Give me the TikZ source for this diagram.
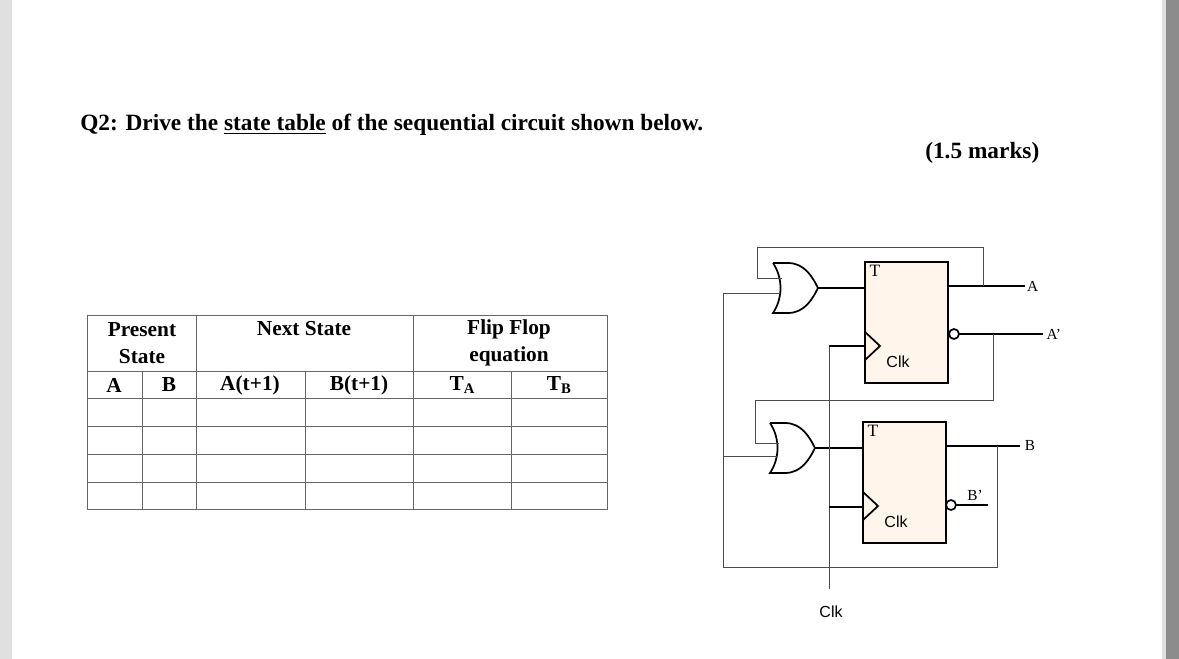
\documentclass[tikz,border=0pt]{standalone}
\usepackage{fontspec}
\setmainfont{Liberation Serif}
\newfontfamily\sansf{Liberation Sans}
\begin{document}
\begin{tikzpicture}[x=0.75pt,y=-0.75pt,
  wire/.style={draw=black!70,line width=0.6pt},
  gate/.style={draw=black,line width=1.3pt},
  ff/.style={draw=black,line width=1.3pt,fill=orange!8!white,inner sep=0},
  hdr/.style={font=\bfseries\fontsize{16}{20.5}\selectfont,align=center},
  lbl/.style={font=\fontsize{11.5}{12}\selectfont},
  grid/.style={draw=black!60,line width=0.7pt}]
\useasboundingbox (0,0) rectangle (1179,659);
\fill[black!12] (0,0) rectangle (1179,659);
\fill[white] (12,0) rectangle (1162,659);
\fill[black!45] (1166,0) rectangle (1179,659);
% title
\node[anchor=base west,font=\bfseries\fontsize{17.5}{20}\selectfont,inner sep=0] (title) at (80,131) {Q2: Drive the \underline{state table} of the sequential circuit shown below.};
\node[anchor=base west,font=\bfseries\fontsize{17.5}{20}\selectfont,inner sep=0] (marks) at (925,159) {(1.5 marks)};
% table
\draw[grid] (87,315) rectangle (607,509);
\foreach \y in {371,398,426,454,482} \draw[grid] (87,\y) -- (607,\y);
\foreach \x in {196,413} \draw[grid] (\x,315) -- (\x,509);
\foreach \x in {142,305,511} \draw[grid] (\x,371) -- (\x,509);
\node[hdr] (h1) at (142,343) {Present\\State};
\node[hdr] (h2) at (304,329) {Next State};
\node[hdr] (h3) at (509,343) {Flip Flop\\equation};
\node[hdr] (cA) at (114,385) {A};
\node[hdr] (cB) at (169,385) {B};
\node[hdr] (cA1) at (250,385) {A(t+1)};
\node[hdr] (cB1) at (359,385) {B(t+1)};
\node[hdr] (cTA) at (462,385) {T\raisebox{-2pt}{\fontsize{11}{12}\selectfont A}};
\node[hdr] (cTB) at (559,385) {T\raisebox{-2pt}{\fontsize{11}{12}\selectfont B}};
% flip flops
\node[ff,minimum width=62.25pt,minimum height=90.75pt] (FA) at (906.5,322.5) {};
\node[ff,minimum width=62.25pt,minimum height=90.75pt] (FB) at (904.5,482.5) {};
\node[anchor=north west,inner sep=1pt,font=\fontsize{13}{14}\selectfont] at (868,264) {T};
\node[anchor=north west,inner sep=1pt,font=\fontsize{13}{14}\selectfont] at (866,424) {T};
\node[font=\sansf\fontsize{12}{13}\selectfont] at (898,362) {Clk};
\node[font=\sansf\fontsize{12}{13}\selectfont] at (896,522) {Clk};
\draw[gate] (865,332) -- (880,346) -- (865,360);
\draw[gate] (863,492) -- (878,506) -- (863,520);
% OR gates
\foreach \x/\y/\n in {773/263/gA,770/423/gB}{
  \draw[gate] (\x,\y) -- ++(15,0) .. controls ++(17,0) and ++(-5,-10) .. ++(30,25)
     .. controls ++(-5,10) and ++(17,0) .. ++(-30,25) -- ++(-15,0)
     .. controls ++(10,-15) and ++(10,15) .. ++(0,-50);
  \coordinate (\n o) at (\x+45,\y+25);
}
\draw[gate] (gAo) -- (865,288);
\draw[gate] (gBo) -- (863,448);
% outputs
\draw[gate] (948,286) -- (1025,286) node[lbl,right,inner sep=1pt] {A};
\draw[gate,fill=white] (954,334) circle (5);
\draw[gate] (959,334) -- (1043,334) node[lbl,right,inner sep=2pt] {A'};
\draw[gate] (946,446) -- (1020,446) node[lbl,right,inner sep=3pt] {B};
\draw[gate,fill=white] (951,505) circle (5);
\draw[gate] (956,505) -- (988,505);
\node[lbl] at (975,495) {B'};
% feedback wires
\draw[wire] (983,286) -- (983,247) -- (757,247) -- (757,278) -- (782,278);
\draw[wire] (993,334) -- (993,400) -- (755,400) -- (755,443) -- (779,443);
\draw[wire] (997,446) -- (997,567) -- (723,567) -- (723,293) -- (780,293);
\draw[wire] (723,456) -- (777,456);
% clock
\draw[wire] (829,589) -- (829,346);
\draw[gate] (829,346) -- (865,346);
\draw[gate] (829,507) -- (863,507);
\node[font=\sansf\fontsize{12}{13}\selectfont] (clk) at (831,612) {Clk};
\end{tikzpicture}
\end{document}
